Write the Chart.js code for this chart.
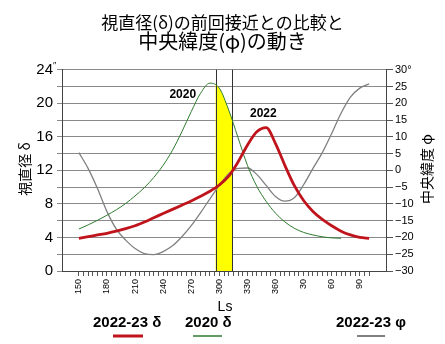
<!DOCTYPE html>
<html>
<head>
<meta charset="utf-8">
<script src="https://cdn.jsdelivr.net/npm/chart.js@4.4.1/dist/chart.umd.min.js"></script>
<style>
  html, body { margin: 0; padding: 0; background: #fff; }
</style>
</head>
<body>
<canvas id="chart" width="445" height="344"></canvas>
<script>
// Ls (solar longitude), 150..460 where values over 360 wrap to the next Mars year
const lsValues = [150, 160, 170, 180, 190, 200, 210, 220, 230, 240, 250, 260, 270, 280, 290, 300,
  310, 320, 330, 340, 350, 360, 370, 380, 390, 400, 410, 420, 430, 440, 450, 460];
// apparent diameter 2022-23 (")
const size2022 = [3.9, 4.1, 4.3, 4.5, 4.75, 5.05, 5.4, 5.85, 6.35, 6.85, 7.35, 7.85, 8.35, 8.9, 9.5, 10.25,
  11.3, 13.0, 15.0, 16.6, 17.1, 15.2, 12.6, 10.2, 8.4, 7.1, 6.15, 5.4, 4.75, 4.3, 4.0, 3.9];
// apparent diameter 2020 ("), ends at Ls 70
const size2020 = [5.0, 5.5, 6.05, 6.65, 7.3, 8.05, 8.95, 9.95, 11.15, 12.6, 14.4, 16.6, 19.0, 21.2, 22.4, 21.8,
  19.2, 15.9, 12.6, 10.1, 8.3, 6.9, 5.85, 5.1, 4.6, 4.3, 4.08, 3.95, 3.9];
// central latitude 2022-23 (deg)
const lat2022 = [5.3, 0.5, -5.5, -12.3, -17.5, -20.8, -23.3, -24.8, -25.1, -24.2, -22.5, -19.8, -16.5, -12.6, -8.5, -4.5,
  -1.0, 0.6, 0.7, -1.2, -4.5, -7.8, -9.2, -8.2, -4.3, 0.6, 5.3, 11.0, 17.0, 21.8, 24.5, 25.8];

const bandLs = [296, 314];
const xLabelTicks = [150, 180, 210, 240, 270, 300, 330, 360, 390, 420, 450];
const xLabelText = ["150", "180", "210", "240", "270", "300", "330", "360", "30", "60", "90"];
const sizeLabelTicks = [0, 4, 8, 12, 16, 20, 24];
const latLabelTicks = [-30, -25, -20, -15, -10, -5, 0, 5, 10, 15, 20, 25, 30];
const seriesNames = ["2022-23 δ", "2020 δ", "2022-23 φ"];
const seriesColors = ["#c0141c", "#2f7a2f", "#808080"];
const noteText = ["2020", "2022"];
const noteLs = [261, 347];
const noteSize = [21.0, 18.7];

const toPoints = vals => vals.map((v, i) => ({ x: lsValues[i], y: v }));

const JP = '"Noto Sans CJK JP", sans-serif';
const LAT = '"Liberation Sans", Arial, sans-serif';

const bandPlugin = {
  id: "band",
  beforeDatasetsDraw(chart) {
    const { ctx, chartArea } = chart;
    const xs = chart.scales.x;
    const x1 = xs.getPixelForValue(bandLs[0]);
    const x2 = xs.getPixelForValue(bandLs[1]);
    const meta = chart.getDatasetMeta(1);
    const pts = meta.data;
    ctx.save();
    ctx.beginPath();
    ctx.rect(x1, chartArea.top, x2 - x1, chartArea.bottom - chartArea.top);
    ctx.clip();
    ctx.beginPath();
    if (meta.dataset && typeof meta.dataset.path === "function") {
      meta.dataset.path(ctx);
    } else {
      pts.forEach((p, i) => (i ? ctx.lineTo(p.x, p.y) : ctx.moveTo(p.x, p.y)));
    }
    ctx.lineTo(pts[pts.length - 1].x, chartArea.bottom);
    ctx.lineTo(pts[0].x, chartArea.bottom);
    ctx.closePath();
    ctx.fillStyle = "#ffff00";
    ctx.fill();
    ctx.restore();

    ctx.save();
    ctx.strokeStyle = "#333";
    ctx.lineWidth = 1;
    [x1, x2].forEach(x => {
      ctx.beginPath();
      ctx.moveTo(Math.round(x) + 0.5, chartArea.top);
      ctx.lineTo(Math.round(x) + 0.5, chartArea.bottom);
      ctx.stroke();
    });
    ctx.restore();
  },
  afterDraw(chart) {
    const { ctx, scales } = chart;
    ctx.save();
    ctx.fillStyle = "#000";

    // peak notes
    ctx.font = "bold 12px " + LAT;
    ctx.textAlign = "center";
    ctx.textBaseline = "middle";
    noteText.forEach((t, i) => {
      ctx.fillText(t, scales.x.getPixelForValue(noteLs[i]), scales.y.getPixelForValue(noteSize[i]));
    });

    // seconds mark on the top left tick
    ctx.font = "9px " + LAT;
    ctx.textAlign = "left";
    ctx.fillText("″", 53, scales.y.getPixelForValue(24) - 4);

    // axis titles, both read bottom to top
    ctx.font = "14px " + JP;
    ctx.textAlign = "center";
    [["視直径 δ", 25], ["中央緯度 φ", 427]].forEach(([t, x]) => {
      ctx.save();
      ctx.translate(x, 169);
      ctx.rotate(-Math.PI / 2);
      ctx.fillText(t, 0, 0);
      ctx.restore();
    });

    ctx.font = "14px " + LAT;
    ctx.fillText("Ls", 225, 307);

    // legend
    const legendX = [93, 185, 336];
    const lineX = [[113, 143], [193, 222], [357, 385]];
    const lineW = [3, 1.5, 2];
    ctx.font = "bold 15px " + LAT;
    ctx.textAlign = "left";
    seriesNames.forEach((name, i) => {
      ctx.fillStyle = "#000";
      ctx.fillText(name, legendX[i], 323);
      ctx.strokeStyle = seriesColors[i];
      ctx.lineWidth = lineW[i];
      ctx.beginPath();
      ctx.moveTo(lineX[i][0], 336);
      ctx.lineTo(lineX[i][1], 336);
      ctx.stroke();
    });
    ctx.restore();
  }
};

new Chart(document.getElementById("chart"), {
  type: "line",
  data: {
    datasets: [
      { label: seriesNames[0], data: toPoints(size2022), yAxisID: "y", borderColor: seriesColors[0], borderWidth: 2.8 },
      { label: seriesNames[1], data: toPoints(size2020), yAxisID: "y", borderColor: seriesColors[1], borderWidth: 1 },
      { label: seriesNames[2], data: toPoints(lat2022), yAxisID: "y1", borderColor: seriesColors[2], borderWidth: 1.3 }
    ]
  },
  options: {
    responsive: false,
    animation: false,
    devicePixelRatio: 1,
    elements: { point: { radius: 0 }, line: { cubicInterpolationMode: "monotone", fill: false } },
    layout: { padding: { left: 0, right: 0, top: 0, bottom: 0 } },
    plugins: {
      legend: { display: false },
      tooltip: { enabled: false },
      title: {
        display: true,
        text: "視直径(δ)の前回接近との比較と",
        color: "#000",
        font: { family: JP, size: 17, weight: "normal", lineHeight: 1.1 },
        padding: { top: 13, bottom: 0 }
      },
      subtitle: {
        display: true,
        text: "中央緯度(φ)の動き",
        color: "#000",
        font: { family: JP, size: 20, weight: "normal", lineHeight: 1.0 },
        padding: { top: 0, bottom: 18 }
      }
    },
    scales: {
      x: {
        type: "linear",
        min: 132,
        max: 478,
        afterBuildTicks: s => {
          s.ticks = [];
          for (let v = lsValues[0]; v <= lsValues[lsValues.length - 1]; v += 5) s.ticks.push({ value: v });
        },
        afterFit: s => { s.height = 73; },
        ticks: {
          autoSkip: false,
          minRotation: 90,
          maxRotation: 90,
          padding: 3,
          color: "#000",
          font: { family: LAT, size: 9 },
          callback: v => {
            const i = xLabelTicks.indexOf(v);
            return i < 0 ? "" : xLabelText[i];
          }
        },
        grid: { drawOnChartArea: false, tickLength: 5, color: "#555" },
        border: { color: "#444" }
      },
      y: {
        position: "left",
        min: 0,
        max: 24,
        afterBuildTicks: s => {
          s.ticks = [];
          for (let v = 0; v <= 24; v += 2) s.ticks.push({ value: v });
        },
        afterFit: s => { s.width = 62; },
        ticks: {
          autoSkip: false,
          padding: 4,
          color: "#000",
          font: { family: LAT, size: 15 },
          callback: v => (sizeLabelTicks.includes(v) ? String(v) : "")
        },
        grid: { color: "#8a8a8a", tickLength: 5 },
        border: { color: "#444" }
      },
      y1: {
        position: "right",
        min: -30,
        max: 30,
        afterBuildTicks: s => { s.ticks = latLabelTicks.map(v => ({ value: v })); },
        afterFit: s => { s.width = 59; },
        ticks: {
          autoSkip: false,
          padding: 2,
          color: "#000",
          font: { family: LAT, size: 11 },
          callback: v => (v === 30 ? "30°" : String(v).replace("-", "−"))
        },
        grid: { drawOnChartArea: false, tickLength: 7, color: "#555" },
        border: { color: "#444" }
      }
    }
  },
  plugins: [bandPlugin]
});
</script>
</body>
</html>
